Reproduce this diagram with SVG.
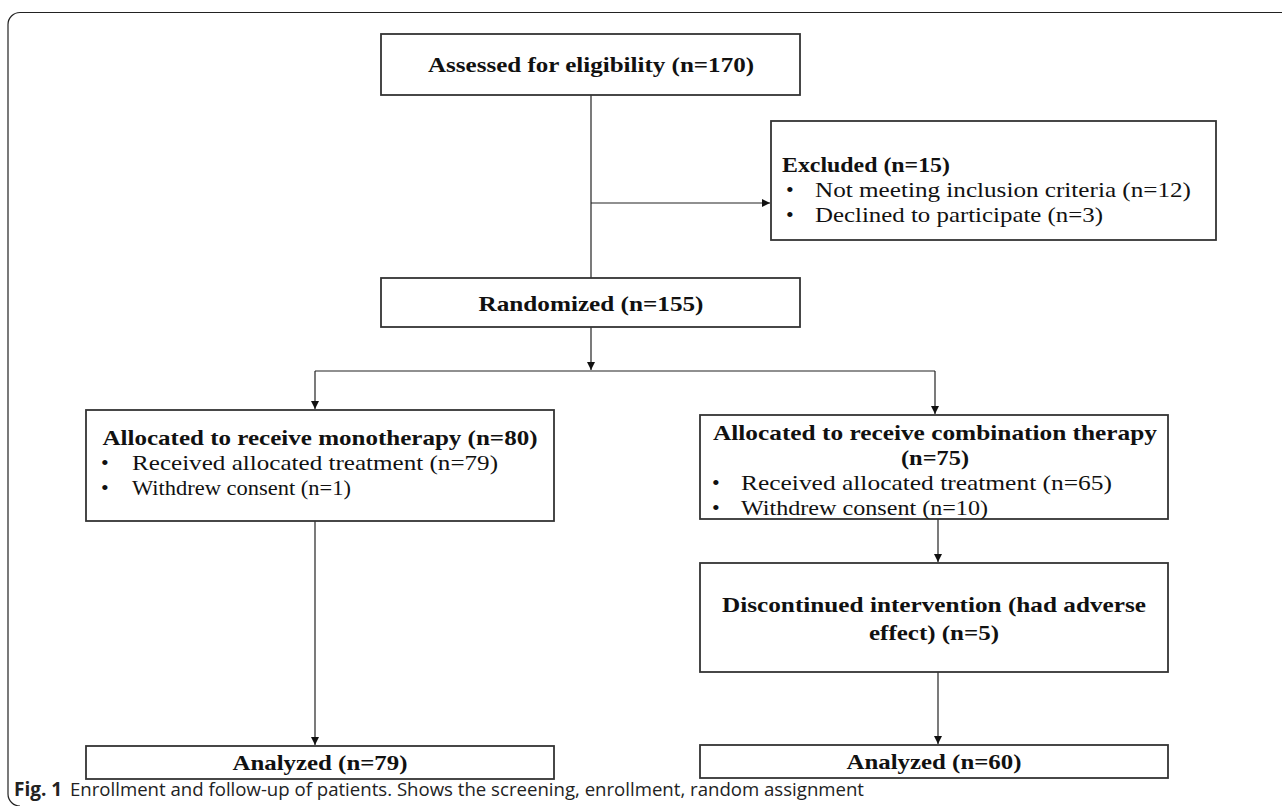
<svg xmlns="http://www.w3.org/2000/svg" width="1282" height="806" viewBox="0 0 1282 806">
<defs>
<marker id="ah" viewBox="0 0 10 10" refX="10" refY="5" markerWidth="8" markerHeight="8" markerUnits="userSpaceOnUse" orient="auto">
<path d="M0,0 L10,5 L0,10 z" fill="#111"/>
</marker>
<style>
.box{fill:#fff;stroke:#333;stroke-width:1.8}
.b{font-family:"Liberation Serif","Times New Roman",serif;font-weight:bold;font-size:22px;fill:#111}
.r{font-family:"Liberation Serif","Times New Roman",serif;font-size:22px;fill:#111}
.ln{stroke:#222;stroke-width:1.2;fill:none}
.cap{font-family:"Open Sans","Noto Sans",sans-serif;font-size:19px;fill:#222}
</style>
</defs>
<rect width="1282" height="806" fill="#fff"/>
<path d="M1282,12.5 H20 A12,12 0 0 0 8,24.5 V794 A12,12 0 0 0 20,806" fill="none" stroke="#222" stroke-width="1.2"/>
<g id="connectors">
<line class="ln" x1="591" y1="95" x2="591" y2="278"/>
<line class="ln" x1="591" y1="203" x2="770" y2="203" marker-end="url(#ah)"/>
<line class="ln" x1="591" y1="327" x2="591" y2="370" marker-end="url(#ah)"/>
<line class="ln" x1="315" y1="371" x2="935" y2="371"/>
<line class="ln" x1="315" y1="371" x2="315" y2="409" marker-end="url(#ah)"/>
<line class="ln" x1="935" y1="371" x2="935" y2="414" marker-end="url(#ah)"/>
<line class="ln" x1="315" y1="521" x2="315" y2="745" marker-end="url(#ah)"/>
<line class="ln" x1="938" y1="519" x2="938" y2="562" marker-end="url(#ah)"/>
<line class="ln" x1="938" y1="672" x2="938" y2="744" marker-end="url(#ah)"/>
</g>
<g id="assessed">
<rect class="box" x="381" y="34" width="419" height="61"/>
<text class="b" x="591" y="72" text-anchor="middle" textLength="326" lengthAdjust="spacingAndGlyphs">Assessed for eligibility (n=170)</text>
</g>
<g id="excluded">
<rect class="box" x="771" y="121" width="445" height="119"/>
<text class="b" x="782" y="172" textLength="168" lengthAdjust="spacingAndGlyphs">Excluded (n=15)</text>
<text class="r" x="786" y="197">•</text>
<text class="r" x="815" y="197" textLength="376" lengthAdjust="spacingAndGlyphs">Not meeting inclusion criteria (n=12)</text>
<text class="r" x="786" y="222">•</text>
<text class="r" x="815" y="222" textLength="288" lengthAdjust="spacingAndGlyphs">Declined to participate (n=3)</text>
</g>
<g id="randomized">
<rect class="box" x="381" y="278" width="419" height="49"/>
<text class="b" x="591" y="311" text-anchor="middle" textLength="225" lengthAdjust="spacingAndGlyphs">Randomized (n=155)</text>
</g>
<g id="mono">
<rect class="box" x="86" y="410" width="468" height="111"/>
<text class="b" x="320" y="445" text-anchor="middle" textLength="435" lengthAdjust="spacingAndGlyphs">Allocated to receive monotherapy (n=80)</text>
<text class="r" x="101" y="470">•</text>
<text class="r" x="132" y="470" textLength="366" lengthAdjust="spacingAndGlyphs">Received allocated treatment (n=79)</text>
<text class="r" x="101" y="495">•</text>
<text class="r" x="132" y="495" textLength="219" lengthAdjust="spacingAndGlyphs">Withdrew consent (n=1)</text>
</g>
<g id="combo">
<rect class="box" x="700" y="415" width="468" height="104"/>
<text class="b" x="935" y="440" text-anchor="middle" textLength="444" lengthAdjust="spacingAndGlyphs">Allocated to receive combination therapy</text>
<text class="b" x="935" y="465" text-anchor="middle" textLength="68" lengthAdjust="spacingAndGlyphs">(n=75)</text>
<text class="r" x="712" y="490">•</text>
<text class="r" x="741" y="490" textLength="371" lengthAdjust="spacingAndGlyphs">Received allocated treatment (n=65)</text>
<text class="r" x="712" y="515">•</text>
<text class="r" x="741" y="515" textLength="247" lengthAdjust="spacingAndGlyphs">Withdrew consent (n=10)</text>
</g>
<g id="discontinued">
<rect class="box" x="700" y="563" width="468" height="109"/>
<text class="b" x="934" y="612" text-anchor="middle" textLength="424" lengthAdjust="spacingAndGlyphs">Discontinued intervention (had adverse</text>
<text class="b" x="934" y="640" text-anchor="middle" textLength="130" lengthAdjust="spacingAndGlyphs">effect) (n=5)</text>
</g>
<g id="analyzed-mono">
<rect class="box" x="86" y="746" width="468" height="33"/>
<text class="b" x="320" y="770" text-anchor="middle" textLength="175" lengthAdjust="spacingAndGlyphs">Analyzed (n=79)</text>
</g>
<g id="analyzed-combo">
<rect class="box" x="700" y="745" width="468" height="33"/>
<text class="b" x="934" y="769" text-anchor="middle" textLength="175" lengthAdjust="spacingAndGlyphs">Analyzed (n=60)</text>
</g>
<text class="cap" x="14" y="796"><tspan font-weight="bold">Fig. 1</tspan><tspan x="70" textLength="794" lengthAdjust="spacingAndGlyphs">Enrollment and follow-up of patients. Shows the screening, enrollment, random assignment</tspan></text>
</svg>
